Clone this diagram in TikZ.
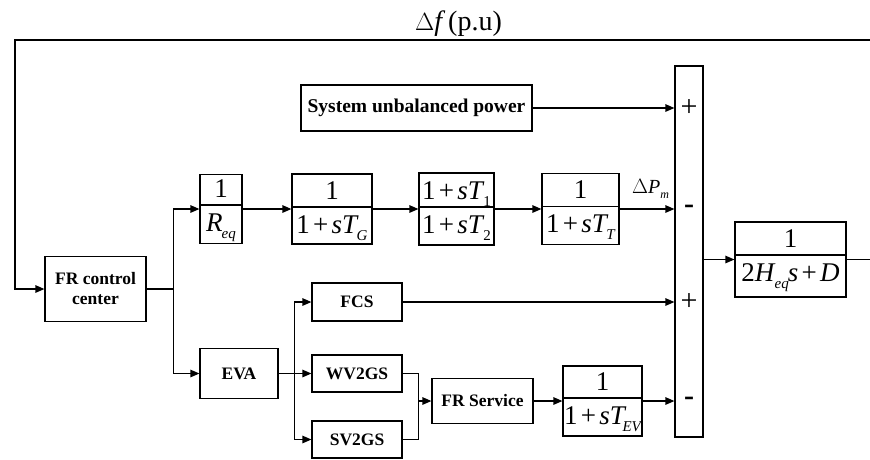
\documentclass[tikz,border=0pt]{standalone}
\usepackage{fontspec}
\setmainfont{Liberation Serif}
\usetikzlibrary{arrows.meta}
\newcommand\sbi[1]{\raisebox{-7pt}{\fontsize{15}{15}\selectfont\itshape #1}}
\newcommand\sbu[1]{\raisebox{-7pt}{\fontsize{15}{15}\selectfont #1}}
\newcommand\iv[1]{\textit{#1}}
\newcommand\pl{\hspace{0.12em}+\hspace{0.12em}}
% name, x, y, w, h, bar offset (up), numerator, denominator
\newcommand\fblk[8]{%
  \node[blk, minimum width=#4, minimum height=#5] (#1) at (#2,#3) {};
  \draw[ln] ([yshift=#6]#1.west) -- ([yshift=#6]#1.east);
  \node[ftxt, anchor=base] (#1n) at ([yshift=#6+8pt]#1.center) {#7};
  \node[ftxt, anchor=base] (#1d) at ([yshift=#6-26pt]#1.center) {#8};
}
\begin{document}
\begin{tikzpicture}[x=1pt, y=-1pt,
  ln/.style={line width=1.2pt},
  blk/.style={draw, line width=1.2pt, inner sep=0pt},
  lbl/.style={blk, font=\fontsize{17.5}{20}\selectfont\bfseries, align=center},
  ftxt/.style={inner sep=0pt, font=\fontsize{27}{29}\selectfont},
  sgn/.style={inner sep=0pt, font=\fontsize{30}{32}\selectfont},
  sgnm/.style={inner sep=0pt, font=\fontsize{30}{32}\selectfont\bfseries},
  arr/.style={ln, -{Triangle[length=9pt, width=7.5pt]}}]
\useasboundingbox (0,0) rectangle (870,459);

% title
\node[inner sep=0pt, anchor=base, font=\fontsize{28}{30}\selectfont] (title) at (458.5,30) {$\Delta$\iv{f}\hspace{0.1em}(p.u)};

% blocks
\node[lbl, minimum width=101, minimum height=65] (fr) at (95.5,289) {FR control\\center};
\node[lbl, minimum width=231, minimum height=46, font=\fontsize{19.5}{22}\selectfont\bfseries] (sup) at (416.5,108) {System unbalanced power};
\fblk{req}{221}{209}{42}{69}{4pt}{1}{\iv{R}\kern-1pt\sbi{eq}}
\fblk{tg}{332}{209}{80}{70}{2pt}{1}{1\pl\iv{sT}\kern-2pt\sbi{G}}
\fblk{tt}{456.5}{209}{75}{72}{2pt}{1\pl\iv{sT}\kern-1pt\sbu{1}}{1\pl\iv{sT}\kern-1pt\sbu{2}}
\fblk{ttt}{580.5}{209}{77}{71}{2.5pt}{1}{1\pl\iv{sT}\kern-2pt\sbi{T}}
\node[blk, minimum width=28, minimum height=371] (sum) at (689,251.5) {};
\fblk{plant}{790.5}{259.5}{111}{75}{4.5pt}{1}{2\iv{H}\kern-1pt\sbi{eq}\kern-1pt\iv{s}\pl\iv{D}}

\node[lbl, minimum width=90, minimum height=38] (fcs) at (357,302) {FCS};
\node[lbl, minimum width=78, minimum height=50] (eva) at (239,373.5) {EVA};
\node[lbl, minimum width=90, minimum height=37] (wv) at (357,373.5) {WV2GS};
\node[lbl, minimum width=90, minimum height=37] (sv) at (357,439.5) {SV2GS};
\node[lbl, minimum width=101, minimum height=45] (frs) at (482.5,401) {FR Service};
\fblk{tev}{602.5}{401}{79}{70}{3pt}{1}{1\pl\iv{sT}\kern-4pt\sbi{EV}}

% labels
\node[inner sep=0pt, anchor=base west, font=\fontsize{20}{22}\selectfont] (dpm) at (632,193) {$\Delta$\iv{P}\raisebox{-5pt}{\fontsize{12}{12}\selectfont\itshape m}};

% signs
\node[sgn] (s1) at (sum.center |- sup.east) {+};
\node[sgnm] (s2) at (sum.center |- ttt.east) {-};
\node[sgn] (s3) at (sum.center |- fcs.east) {+};
\node[sgnm] (s4) at (sum.center |- tev.east) {-};

% feedback
\coordinate (fbR) at (870,40);
\coordinate (fbL) at (15,40);
\draw[arr] (fbR) -- (fbL) |- (fr.west);
\draw[ln] (plant.east) -- (plant.east -| fbR);

% connections
\draw[ln] (fr.east) -- ++(27,0) coordinate (sp1);
\draw[arr] (sp1) |- (req.west);
\draw[arr] (sp1) |- (eva.west);
\draw[arr] (req.east) -- (tg.west);
\draw[arr] (tg.east) -- (tt.west);
\draw[arr] (tt.east) -- (ttt.west);
\draw[arr] (ttt.east) -- (ttt.east -| sum.west);
\draw[arr] (sup.east) -- (sup.east -| sum.west);
\draw[arr] (fcs.east) -- (fcs.east -| sum.west);
\draw[arr] (tev.east) -- (tev.east -| sum.west);
\draw[arr] (sum.east |- plant.west) -- (plant.west);

\draw[ln] (eva.east) -- ++(16,0) coordinate (sp2);
\draw[arr] (sp2) |- (fcs.west);
\draw[arr] (sp2) -- (wv.west);
\draw[arr] (sp2) |- (sv.west);

\draw[ln] (wv.east) -- ++(16,0) coordinate (mg) -- (mg |- sv.east) -- (sv.east);
\draw[arr] (mg |- frs.west) -- (frs.west);
\draw[arr] (frs.east) -- (tev.west);
\end{tikzpicture}
\end{document}
